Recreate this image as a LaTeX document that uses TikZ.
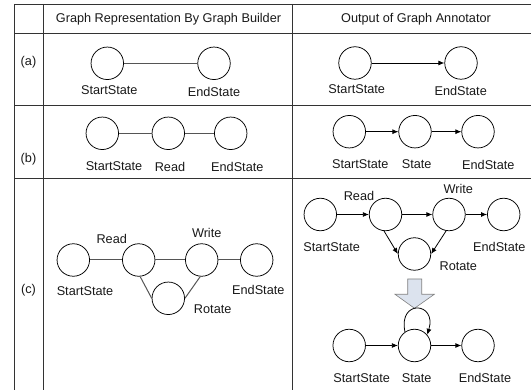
\documentclass[tikz,border=0pt]{standalone}
\usepackage{fontspec}
\setmainfont{Liberation Sans}
\usetikzlibrary{arrows.meta}
\definecolor{rule}{HTML}{333333}
\definecolor{edgegray}{HTML}{555555}
\definecolor{blockfill}{HTML}{DCE3EE}
\begin{document}
\begin{tikzpicture}[x=1pt,y=-1pt,
  state/.style={circle,draw=black,line width=0.75pt,minimum size=32.5pt,inner sep=0pt},
  lbl/.style={inner sep=0pt,text=black!90,font=\fontsize{12.7}{15}\selectfont},
  undirected/.style={draw=edgegray,line width=1pt},
  directed/.style={draw=black,line width=0.8pt,-{Latex[length=6pt,width=5pt]}},
  gridline/.style={draw=rule,line width=0.9pt}]
\useasboundingbox (0,0) rectangle (531,390);

% table rules
\draw[gridline] (14,4) -- (531,4);
\draw[gridline] (14,33.3) -- (531,33.3);
\draw[gridline] (14,105) -- (531,105);
\draw[gridline] (14,178) -- (531,178);
\draw[gridline] (14,4) -- (14,390);
\draw[gridline] (43,4) -- (43,390);
\draw[gridline] (292,4) -- (292,390);

% headers and row tags
\node[lbl] (h1) at (168.5,19.5) {Graph Representation By Graph Builder};
\node[lbl] (h2) at (416,19.5) {Output of Graph Annotator};
\node[lbl] (ra) at (28.5,62.7) {(a)};
\node[lbl] (rb) at (28.5,159.3) {(b)};
\node[lbl] (rc) at (28.5,290) {(c)};

% row (a), builder
\node[state] (a1) at (107.3,63.3) {};
\node[state] (a2) at (214,63.3) {};
\node[lbl] (a1l) at (109.3,90) {StartState};
\node[lbl] (a2l) at (214,91.5) {EndState};
\draw[undirected] (a1) -- (a2);

% row (a), annotator
\node[state] (a3) at (355,63) {};
\node[state] (a4) at (461,63) {};
\node[lbl] (a3l) at (356.7,89.3) {StartState};
\node[lbl] (a4l) at (460.7,90.7) {EndState};
\draw[directed] (a3) -- (a4);

% row (b), builder
\node[state] (b1) at (102.3,133.3) {};
\node[state] (b2) at (168.3,133.3) {};
\node[state] (b3) at (230.7,133.3) {};
\node[lbl] (b1l) at (114,166.5) {StartState};
\node[lbl] (b2l) at (170,166.5) {Read};
\node[lbl] (b3l) at (237.3,166.5) {EndState};
\draw[undirected] (b1) -- (b2);
\draw[undirected] (b2) -- (b3);

% row (b), annotator
\node[state] (b4) at (349.3,131.7) {};
\node[state] (b5) at (415,131.7) {};
\node[state] (b6) at (478,131.7) {};
\node[lbl] (b4l) at (360.3,164.5) {StartState};
\node[lbl] (b5l) at (416.7,164.5) {State};
\node[lbl] (b6l) at (488.3,164.5) {EndState};
\draw[directed] (b4) -- (b5);
\draw[directed] (b5) -- (b6);

% row (c), builder
\node[state] (c1) at (73.3,260) {};
\node[state] (c2) at (138.7,260) {};
\node[state] (c3) at (201.7,260) {};
\node[state] (c4) at (256.7,260) {};
\node[state] (c5) at (168.3,298.3) {};
\node[lbl] (c2l) at (111.7,239) {Read};
\node[lbl] (c3l) at (206.7,232.7) {Write};
\node[lbl] (c1l) at (85,291) {StartState};
\node[lbl] (c4l) at (258.3,290.3) {EndState};
\node[lbl] (c5l) at (212.7,309.3) {Rotate};
\draw[undirected] (c1) -- (c2);
\draw[undirected] (c2) -- (c3);
\draw[undirected] (c3) -- (c4);
\draw[undirected] (c2.-85) -- (c5.west);
\draw[undirected] (c3.-95) -- (c5.east);

% row (c), annotator, before merging
\node[state] (d1) at (320.3,214.5) {};
\node[state] (d2) at (385.5,214.5) {};
\node[state] (d3) at (449,214.5) {};
\node[state] (d4) at (503.7,214.5) {};
\node[state] (d5) at (414.5,254) {};
\node[lbl] (d2l) at (359,195.7) {Read};
\node[lbl] (d3l) at (458.3,188.7) {Write};
\node[lbl] (d1l) at (331.7,246.7) {StartState};
\node[lbl] (d4l) at (499.3,247.3) {EndState};
\node[lbl] (d5l) at (458.3,265.7) {Rotate};
\draw[directed] (d1) -- (d2);
\draw[directed] (d2) -- (d3);
\draw[directed] (d3) -- (d4);
\draw[directed] (d2.-95) -- (d5.west);
\draw[directed] (d3.-100) -- (d5.east);

% block arrow
\draw[draw=black!50,fill=blockfill,line width=0.6pt]
  (407.7,279) -- (421.7,279) -- (421.7,294.3) -- (434.3,294.3)
  -- (414.5,308.3) -- (395,294.3) -- (407.7,294.3) -- cycle;

% row (c), annotator, after merging
\node[state] (e1) at (349.2,345.5) {};
\node[state] (e2) at (414.5,345.5) {};
\node[state] (e3) at (478,345.5) {};
\node[lbl] (e1l) at (361.7,378.3) {StartState};
\node[lbl] (e2l) at (416.7,378.3) {State};
\node[lbl] (e3l) at (485,378.3) {EndState};
\draw[directed] (e1) -- (e2);
\draw[directed] (e2) -- (e3);
% self loop above the merged state (y axis points down here)
\draw[directed] (e2.125) .. controls +(-7,-33) and +(10,-33) .. (e2.40);
\end{tikzpicture}
\end{document}
